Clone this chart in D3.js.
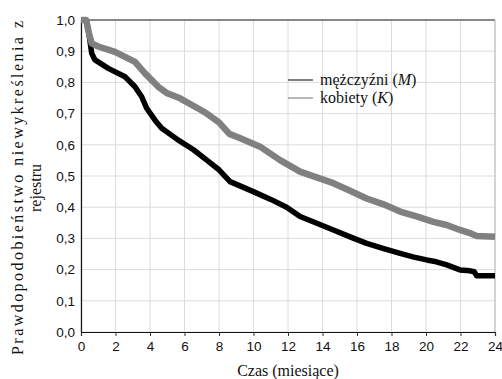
<!DOCTYPE html>
<html>
<head>
<meta charset="utf-8">
<script src="https://cdn.jsdelivr.net/npm/d3@7.9.0/dist/d3.min.js"></script>
<style>
  body { margin: 0; background: #fff; }
  svg { display: block; }
</style>
</head>
<body>
<div id="chart"></div>
<script>
// months and survival probability, men (M)
const monthsM = [0, 0.3, 0.45, 0.62, 0.81, 1.58, 2.55, 3.13, 3.52, 3.81, 4.29, 4.68, 5.64, 6.5, 7.29, 8.0, 8.64, 9.99, 11.0, 11.92, 12.7, 13.6, 14.63, 15.6, 16.56, 17.5, 18.5, 19.3, 20.04, 20.6, 21.2, 21.97, 22.55, 22.8, 22.94, 24];
const survM = [1.0, 1.0, 0.96, 0.893, 0.872, 0.845, 0.818, 0.786, 0.754, 0.717, 0.679, 0.653, 0.615, 0.585, 0.551, 0.52, 0.482, 0.45, 0.425, 0.40, 0.37, 0.35, 0.327, 0.305, 0.284, 0.268, 0.252, 0.24, 0.231, 0.225, 0.215, 0.199, 0.196, 0.193, 0.18, 0.18];

// months and survival probability, women (K)
const monthsK = [0, 0.3, 0.45, 0.62, 1.0, 1.97, 3.13, 3.71, 4.48, 5.0, 5.74, 7.0, 7.29, 8.0, 8.6, 9.2, 10.38, 11.54, 12.7, 13.28, 14.63, 15.5, 16.56, 17.5, 18.5, 19.5, 20.43, 21.2, 21.97, 22.5, 22.94, 24];
const survK = [1.0, 1.0, 0.96, 0.925, 0.915, 0.898, 0.866, 0.829, 0.786, 0.765, 0.749, 0.71, 0.70, 0.672, 0.635, 0.622, 0.594, 0.551, 0.514, 0.503, 0.477, 0.455, 0.428, 0.41, 0.386, 0.37, 0.353, 0.343, 0.327, 0.318, 0.308, 0.305];

const xTicks = d3.range(0, 25, 2);
const yTicks = d3.range(0, 11).map(d => d / 10);

const width = 502, height = 379;
const margin = { top: 20, right: 7, bottom: 47, left: 81 };

const svg = d3.select('#chart').append('svg')
  .attr('width', width)
  .attr('height', height);

const xScale = d3.scaleLinear().domain([0, 24]).range([margin.left, width - margin.right]);
const yScale = d3.scaleLinear().domain([0, 1]).range([height - margin.bottom, margin.top]);

const fmt = d => d3.format('.1f')(d).replace('.', ',');

// gridlines
svg.append('g')
  .selectAll('line')
  .data(xTicks)
  .join('line')
  .attr('x1', d => xScale(d)).attr('x2', d => xScale(d))
  .attr('y1', yScale(0)).attr('y2', yScale(1))
  .attr('stroke', '#dcdcdc').attr('stroke-width', 1);

svg.append('g')
  .selectAll('line')
  .data(yTicks)
  .join('line')
  .attr('x1', xScale(0)).attr('x2', xScale(24))
  .attr('y1', d => yScale(d)).attr('y2', d => yScale(d))
  .attr('stroke', '#dcdcdc').attr('stroke-width', 1);

// frame: top dark, right light
svg.append('line')
  .attr('x1', xScale(0)).attr('x2', xScale(24))
  .attr('y1', yScale(1)).attr('y2', yScale(1))
  .attr('stroke', '#222').attr('stroke-width', 1.2);
svg.append('line')
  .attr('x1', xScale(24)).attr('x2', xScale(24))
  .attr('y1', yScale(1)).attr('y2', yScale(0))
  .attr('stroke', '#bbb').attr('stroke-width', 1);

// axes
const xAxis = svg.append('g')
  .attr('transform', `translate(0, ${yScale(0)})`)
  .call(d3.axisBottom(xScale).tickValues(xTicks).tickSize(4).tickPadding(5));
const yAxis = svg.append('g')
  .attr('transform', `translate(${xScale(0)}, 0)`)
  .call(d3.axisLeft(yScale).tickValues(yTicks).tickFormat(fmt).tickSize(0).tickPadding(6));

for (const ax of [xAxis, yAxis]) {
  ax.select('.domain').attr('stroke', '#111').attr('stroke-width', 1.2);
  ax.selectAll('.tick line').attr('stroke', '#333');
  ax.selectAll('text')
    .attr('fill', '#111')
    .style('font-family', '"Liberation Sans", Arial, sans-serif')
    .style('font-size', '13.5px');
}

// curves
const line = d3.line().x(d => xScale(d[0])).y(d => yScale(d[1]));

svg.append('path')
  .datum(d3.zip(monthsM, survM))
  .attr('d', line)
  .attr('fill', 'none')
  .attr('stroke', '#000')
  .attr('stroke-width', 5.5)
  .attr('stroke-linejoin', 'round');

svg.append('path')
  .datum(d3.zip(monthsK, survK))
  .attr('d', line)
  .attr('fill', 'none')
  .attr('stroke', '#808080')
  .attr('stroke-width', 6.5)
  .attr('stroke-linejoin', 'round');

// legend
const serif = '"Liberation Serif", "Times New Roman", serif';
const legend = [
  { name: 'mężczyźni (', sym: 'M', color: '#555', y: 80 },
  { name: 'kobiety (', sym: 'K', color: '#a0a0a0', y: 98 }
];
const lg = svg.append('g');
legend.forEach(l => {
  lg.append('line')
    .attr('x1', 288).attr('x2', 313)
    .attr('y1', l.y).attr('y2', l.y)
    .attr('stroke', l.color).attr('stroke-width', 1.5);
  const t = lg.append('text')
    .attr('x', 320).attr('y', l.y + 5)
    .style('font-family', serif)
    .style('font-size', '16px')
    .attr('fill', '#111');
  t.append('tspan').text(l.name);
  t.append('tspan').style('font-style', 'italic').text(l.sym);
  t.append('tspan').text(')');
});

// axis titles
svg.append('text')
  .attr('x', xScale(12)).attr('y', 376)
  .attr('text-anchor', 'middle')
  .style('font-family', serif)
  .style('font-size', '16px')
  .attr('fill', '#111')
  .text('Czas (miesiące)');

const yTitle = svg.append('text')
  .attr('transform', `translate(23, 188) rotate(-90)`)
  .attr('text-anchor', 'middle')
  .style('font-family', serif)
  .style('font-size', '16px')
  .attr('fill', '#111');
yTitle.append('tspan').attr('x', 0).attr('dy', 0)
  .attr('textLength', 334).attr('lengthAdjust', 'spacing')
  .text('Prawdopodobieństwo niewykreślenia z');
yTitle.append('tspan').attr('x', 0).attr('dy', 18).text('rejestru');
</script>
</body>
</html>
